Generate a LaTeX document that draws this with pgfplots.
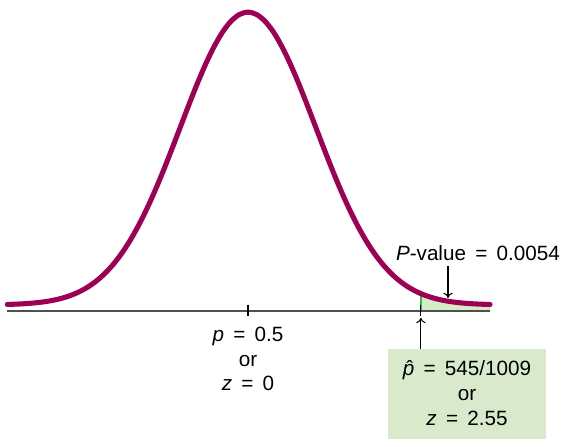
\documentclass[border=0pt]{standalone}
\usepackage{pgfplots}
\pgfplotsset{compat=1.18}
\usepackage{fontspec}
\setmainfont{Liberation Sans}
\usetikzlibrary{arrows.meta}
\definecolor{curvec}{RGB}{158,0,84}
\definecolor{boxg}{RGB}{217,234,204}
\definecolor{shadeg}{RGB}{214,236,200}
\definecolor{lineg}{RGB}{60,178,80}
\definecolor{basec}{RGB}{80,80,80}
\newcommand\eq{\hspace{0.45em}=\hspace{0.45em}}
\newcommand\phat{{\ooalign{\textit{p}\cr\hidewidth\kern0.12em\char"02C6\hidewidth\cr}}}
\begin{document}
\fontsize{15.5}{18.6}\selectfont
\begin{tikzpicture}
\begin{axis}[scale only axis, width=425.25pt, height=334.5pt,
  xmin=-3.658, xmax=4.705, ymin=-0.1921, ymax=0.4155,
  axis lines=none, clip=false]
\path[draw=none] (rel axis cs:0,0) rectangle (rel axis cs:1,1);
% shaded tail
\addplot[fill=shadeg, draw=none] coordinates {
(2.55,-0.008) (2.55,0.01546) (2.625,0.01272) (2.75,0.00909) (2.875,0.00640)
(3.0,0.00443) (3.125,0.00302) (3.25,0.00203) (3.375,0.00134) (3.5,0.00087)
(3.57,0.00068) (3.57,-0.008)} -- cycle;
\addplot[lineg, line width=1.2pt] coordinates {(2.55,-0.008) (2.55,0.0150)};
% baseline
\addplot[basec, line width=1.1pt] coordinates {(-3.55,-0.008) (3.57,-0.008)};
% ticks
\addplot[black, line width=0.8pt] coordinates {(0,0.0005) (0,-0.0145)};
\addplot[black, line width=0.8pt] coordinates {(2.55,0.0005) (2.55,-0.0145)};
% curve
\addplot[curvec, line width=3.8pt, smooth, line cap=round] coordinates {
(-3.55,0.00073) (-3.375,0.00134) (-3.25,0.00203) (-3.125,0.00302) (-3.0,0.00443)
(-2.875,0.00640) (-2.75,0.00909) (-2.625,0.01272) (-2.5,0.01753) (-2.375,0.02377)
(-2.25,0.03174) (-2.125,0.04172) (-2.0,0.05399) (-1.875,0.06879) (-1.75,0.08628)
(-1.625,0.10654) (-1.5,0.12952) (-1.375,0.15501) (-1.25,0.18265) (-1.125,0.21188)
(-1.0,0.24197) (-0.875,0.27206) (-0.75,0.30114) (-0.625,0.32817) (-0.5,0.35207)
(-0.375,0.37185) (-0.25,0.38667) (-0.125,0.39584) (0,0.39894)
(0.125,0.39584) (0.25,0.38667) (0.375,0.37185) (0.5,0.35207) (0.625,0.32817)
(0.75,0.30114) (0.875,0.27206) (1.0,0.24197) (1.125,0.21188) (1.25,0.18265)
(1.375,0.15501) (1.5,0.12952) (1.625,0.10654) (1.75,0.08628) (1.875,0.06879)
(2.0,0.05399) (2.125,0.04172) (2.25,0.03174) (2.375,0.02377) (2.5,0.01753)
(2.625,0.01272) (2.75,0.00909) (2.875,0.00640) (3.0,0.00443) (3.125,0.00302)
(3.25,0.00203) (3.375,0.00134) (3.5,0.00087) (3.57,0.00068)};
% labels
\node[align=center] at (axis cs:0,-0.0736) {\textit{p}\eq0.5\\or\\\textit{z}\eq0};
\fill[boxg] (axis cs:2.065,-0.0599) rectangle (axis cs:4.395,-0.1826);
\node[align=center] at (axis cs:3.23,-0.1199) {\phat\eq545/1009\\or\\\textit{z}\eq2.55};
\draw[-{To[length=4pt,width=7pt]}, line width=0.8pt] (axis cs:2.55,-0.0599) -- (axis cs:2.55,-0.0175);
\node at (axis cs:3.392,0.0708) {\textit{P}-value\eq0.0054};
\draw[-{To[length=4pt,width=7pt]}, line width=0.8pt] (axis cs:2.95,0.0531) -- (axis cs:2.95,0.0095);
\end{axis}
\end{tikzpicture}
\end{document}
